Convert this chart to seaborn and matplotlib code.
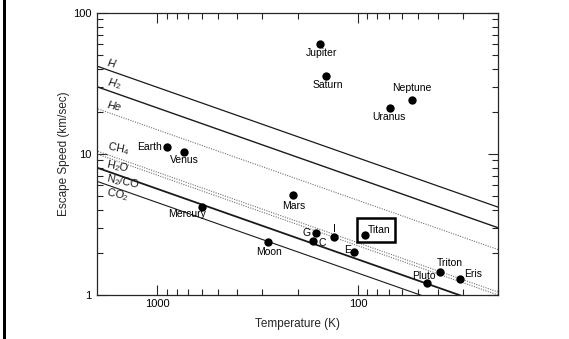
import numpy as np
import pandas as pd
import matplotlib
matplotlib.use("Agg")
import matplotlib.pyplot as plt
import seaborn as sns
from matplotlib.ticker import FixedLocator, NullFormatter, FuncFormatter
from matplotlib.patches import Rectangle

# escape-speed lines: value at the hot (2000 K) and cold (20 K) ends of the axis
species = ["H", "H$_2$", "He", "CH$_4$", "H$_2$O", "N$_2$/CO", "CO$_2$"]
v_hot = [42, 30, 21, 10.5, 10, 8, 6.4]
v_cold = [4.2, 3.0, 2.1, 1.05, 1.0, 0.8, 0.64]
line_ends = [2000, 20]

# bodies: exosphere temperature (K) and escape speed (km/s)
bodies = ["Jupiter", "Saturn", "Neptune", "Uranus", "Earth", "Venus", "Mercury",
          "Moon", "Mars", "G", "C", "I", "Titan", "E", "Triton", "Pluto", "Eris"]
temps = [154, 145, 54, 69, 900, 733, 600, 281, 211, 162, 167, 131, 92, 105, 39, 45, 31]
speeds = [60, 35.7, 24, 21.2, 11.3, 10.4, 4.23, 2.39, 5.12, 2.77, 2.43, 2.58, 2.65,
          2.03, 1.46, 1.21, 1.29]

# styles
dotted = [False, False, True, True, True, False, False]
widths = [0.9, 1.0, 0.8, 0.8, 0.8, 1.3, 0.8]
italic = [True, True, True, False, False, False, False]
above = [True, True, True, True, False, False, False]
# label offsets in points from the dot, with alignment
label_pos = {
    "Jupiter": (1, -3, "center", "top"),
    "Saturn": (2, -3, "center", "top"),
    "Neptune": (0, 5, "center", "bottom"),
    "Uranus": (-1, -3, "center", "top"),
    "Earth": (-3.5, 0, "right", "center"),
    "Venus": (0, -2.5, "center", "top"),
    "Mercury": (3, -2, "right", "top"),
    "Moon": (1, -4, "center", "top"),
    "Mars": (1, -4, "center", "top"),
    "G": (-3.5, 0, "right", "center"),
    "C": (3.5, -2, "left", "center"),
    "I": (0, 2, "center", "bottom"),
    "Titan": (2, 0.5, "left", "bottom"),
    "E": (-2, 1, "right", "center"),
    "Triton": (-2, 3, "left", "bottom"),
    "Pluto": (6, 2, "right", "bottom"),
    "Eris": (3, 0, "left", "bottom"),
}

sns.set_style("ticks")
plt.rcParams["font.family"] = ["Liberation Sans", "DejaVu Sans"]
plt.rcParams["mathtext.fontset"] = "custom"
plt.rcParams["mathtext.rm"] = "Liberation Sans"
plt.rcParams["mathtext.it"] = "Liberation Sans:italic"

fig = plt.figure(figsize=(5.69, 3.39), dpi=100)
ax = fig.add_axes([97 / 569, 1 - 295 / 339, 401 / 569, 282 / 339])

for i, name in enumerate(species):
    d = pd.DataFrame({"T": line_ends, "v": [v_hot[i], v_cold[i]]})
    if dotted[i]:
        sns.lineplot(data=d, x="T", y="v", ax=ax, color="0.45", lw=widths[i],
                     linestyle=(0, (1, 1.2)))
    else:
        sns.lineplot(data=d, x="T", y="v", ax=ax, color="0.1", lw=widths[i])

ax.set_xscale("log")
ax.set_yscale("log")
ax.set_xlim(2000, 20)
ax.set_ylim(1, 100)

# species labels near the left end of each line
T_lab = 1800
for i, name in enumerate(species):
    frac = np.log10(line_ends[0] / T_lab) / np.log10(line_ends[0] / line_ends[1])
    v_lab = 10 ** (np.log10(v_hot[i]) + frac * (np.log10(v_cold[i]) - np.log10(v_hot[i])))
    ax.annotate(name, (T_lab, v_lab), xytext=(0, 1.0) if above[i] else (1, -0.5),
                textcoords="offset points",
                fontsize=8, style="italic" if italic[i] else "normal",
                rotation=-12, ha="left", va="bottom" if above[i] else "top",
                rotation_mode="anchor", color="0.1")

pts = pd.DataFrame({"body": bodies, "T": temps, "v": speeds})
sns.scatterplot(data=pts, x="T", y="v", ax=ax, color="black", s=36,
                edgecolor="black", linewidth=0, zorder=5)
for b, t, v in zip(bodies, temps, speeds):
    dx, dy, ha, va = label_pos[b]
    ax.annotate(b, (t, v), xytext=(dx, dy), textcoords="offset points",
                ha=ha, va=va, fontsize=7.5, color="black")

# box around Titan
ax.add_patch(Rectangle((101, 2.38), 65 - 101, 3.5 - 2.38, fill=False,
                       edgecolor="black", lw=1.8, zorder=6))

ax.xaxis.set_major_locator(FixedLocator([1000, 100]))
ax.xaxis.set_minor_locator(FixedLocator(list(range(200, 1000, 100)) + list(range(20, 100, 10))))
ax.yaxis.set_major_locator(FixedLocator([1, 10, 100]))
ax.yaxis.set_minor_locator(FixedLocator(list(range(2, 10)) + list(range(20, 100, 10))))
fmt = FuncFormatter(lambda val, _: f"{val:g}")
ax.xaxis.set_major_formatter(fmt)
ax.yaxis.set_major_formatter(fmt)
ax.xaxis.set_minor_formatter(NullFormatter())
ax.yaxis.set_minor_formatter(NullFormatter())
ax.tick_params(which="both", direction="in", top=True, right=True, width=0.8,
               colors="0.15", labelcolor="black", labelsize=8)
ax.tick_params(which="major", length=7)
ax.tick_params(axis="x", which="major", pad=3)
ax.tick_params(axis="y", which="major", pad=4)
ax.tick_params(which="minor", length=4)
for s in ax.spines.values():
    s.set_linewidth(0.9)
    s.set_color("0.15")

ax.set_xlabel("Temperature (K)", fontsize=8.5, labelpad=6)
ax.set_ylabel("Escape Speed (km/sec)", fontsize=8.5, labelpad=2)

# thick black bar at the left edge of the image
fig.add_artist(Rectangle((3 / 569, 0), 2.5 / 569, 1, transform=fig.transFigure,
                         color="black", lw=0))

fig.savefig("out.png", dpi=100, facecolor="white")
